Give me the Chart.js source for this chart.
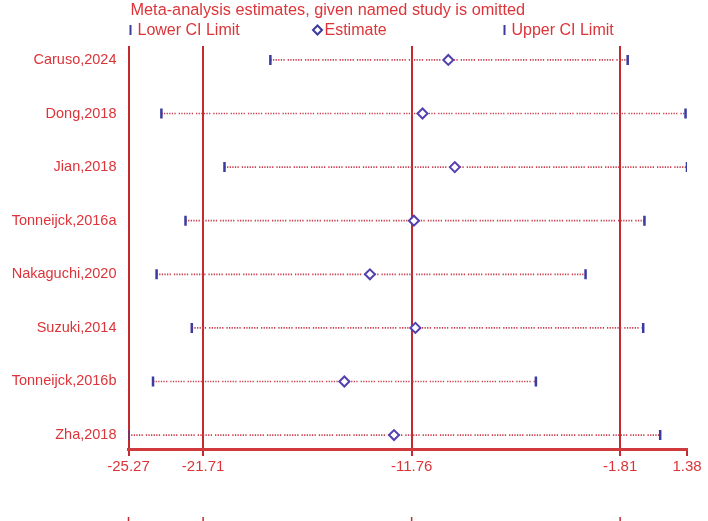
<!DOCTYPE html>
<html>
<head>
<meta charset="utf-8">
<script src="https://cdn.jsdelivr.net/npm/chart.js@4"></script>
<style>
  html, body { margin: 0; padding: 0; background: #fff; }
  #wrap { width: 708px; height: 521px; }
</style>
</head>
<body>
<div id="wrap"><canvas id="chartInfluence"></canvas></div>
<script>
// datos
const studies = ["Caruso,2024", "Dong,2018", "Jian,2018", "Tonneijck,2016a", "Nakaguchi,2020", "Suzuki,2014", "Tonneijck,2016b", "Zha,2018"];
const lowerCI = [-18.50, -23.70, -20.69, -22.55, -23.93, -22.25, -24.10, -25.27];
const estimates = [-10.01, -11.24, -9.70, -11.65, -13.75, -11.58, -14.97, -12.60];
const upperCI = [-1.45, 1.31, 1.38, -0.65, -3.46, -0.71, -5.83, 0.10];
const xTicks = [-25.27, -21.71, -11.76, -1.81, 1.38];

const titleText = "Meta-analysis estimates, given named study is omitted";
const legendItems = ["Lower CI Limit", "Estimate", "Upper CI Limit"];

const RED_TEXT = "#dc3439";
const RED_LINE = "#c22a2f";
const BLUE = "#3b3a9e";
const FONT = "'Liberation Sans', Arial, sans-serif";

const refLines = xTicks.slice(0, -1);

// titulo + leyenda + marcas sueltas de abajo
const extras = {
  id: "extras",
  afterDraw(chart) {
    const { ctx, chartArea, scales } = chart;
    const x0 = chartArea.left + 2;
    ctx.save();
    ctx.fillStyle = RED_TEXT;
    ctx.font = "16.3px " + FONT;
    ctx.textBaseline = "middle";
    ctx.fillText(titleText, x0, 11);

    ctx.font = "16px " + FONT;
    const ly = 30;
    const gap = 187;
    legendItems.forEach((txt, i) => {
      const lx = x0 + i * gap;
      ctx.strokeStyle = BLUE;
      ctx.lineWidth = 2;
      if (i === 1) {
        ctx.beginPath();
        ctx.moveTo(lx, ly - 4.5);
        ctx.lineTo(lx + 4.5, ly);
        ctx.lineTo(lx, ly + 4.5);
        ctx.lineTo(lx - 4.5, ly);
        ctx.closePath();
        ctx.stroke();
      } else {
        ctx.beginPath();
        ctx.moveTo(lx, ly - 5);
        ctx.lineTo(lx, ly + 5);
        ctx.stroke();
      }
      ctx.fillStyle = RED_TEXT;
      ctx.fillText(txt, lx + 7, ly + 1);
    });

    ctx.strokeStyle = RED_LINE;
    ctx.lineWidth = 1.5;
    refLines.forEach(v => {
      const px = scales.x.getPixelForValue(v);
      ctx.beginPath();
      ctx.moveTo(px, 517);
      ctx.lineTo(px, 521);
      ctx.stroke();
    });
    ctx.restore();
  }
};

const idx = studies.map((_, i) => i);

const ciLines = idx.map(i => ({
  type: "line",
  data: [{ x: lowerCI[i], y: i }, { x: upperCI[i], y: i }],
  borderColor: "#c8404f",
  borderWidth: 1.7,
  borderDash: [1.3, 1.3, 1.3, 1.3, 1.3, 1.3, 1.3, 1.3, 1.3, 1.3, 1.3, 3],
  pointRadius: 0,
  order: 3
}));

new Chart(document.getElementById("chartInfluence"), {
  type: "scatter",
  data: {
    datasets: [
      {
        label: "Estimate",
        data: idx.map(i => ({ x: estimates[i], y: i })),
        pointStyle: "rectRot",
        pointRadius: 5,
        borderWidth: 2,
        borderColor: "#5440ae",
        backgroundColor: "#ffffff",
        order: 1
      },
      {
        label: "Lower CI Limit",
        data: idx.map(i => ({ x: lowerCI[i], y: i })),
        pointStyle: "line",
        rotation: 90,
        pointRadius: 5,
        borderWidth: 2.5,
        borderColor: BLUE,
        order: 2
      },
      {
        label: "Upper CI Limit",
        data: idx.map(i => ({ x: upperCI[i], y: i })),
        pointStyle: "line",
        rotation: 90,
        pointRadius: 5,
        borderWidth: 2.5,
        borderColor: BLUE,
        order: 2
      },
      ...ciLines
    ]
  },
  options: {
    responsive: true,
    maintainAspectRatio: false,
    animation: false,
    layout: { padding: { top: 46, right: 21, left: 0, bottom: 0 } },
    plugins: {
      legend: { display: false },
      tooltip: { enabled: false }
    },
    scales: {
      x: {
        type: "linear",
        min: xTicks[0],
        max: xTicks[xTicks.length - 1],
        afterBuildTicks: s => { s.ticks = xTicks.map(v => ({ value: v })); },
        afterFit: s => { s.height = 72; },
        border: { color: "#d0393d", width: 3 },
        grid: {
          color: c => (c.tick && c.tick.value === xTicks[xTicks.length - 1] ? "rgba(0,0,0,0)" : RED_LINE),
          tickColor: RED_LINE,
          lineWidth: 2,
          tickLength: 7
        },
        ticks: {
          color: RED_TEXT,
          font: { family: FONT, size: 15 },
          padding: 2,
          maxRotation: 0,
          autoSkip: false,
          callback: v => v.toFixed(2)
        }
      },
      y: {
        type: "linear",
        reverse: true,
        min: -0.26,
        max: 7.26,
        afterBuildTicks: s => { s.ticks = idx.map(v => ({ value: v })); },
        afterFit: s => { s.width = 128.5; },
        border: { display: false },
        grid: { display: false },
        ticks: {
          color: RED_TEXT,
          font: { family: FONT, size: 14.5 },
          padding: 4,
          autoSkip: false,
          callback: v => studies[v] ?? ""
        }
      }
    }
  },
  plugins: [extras]
});
</script>
</body>
</html>
